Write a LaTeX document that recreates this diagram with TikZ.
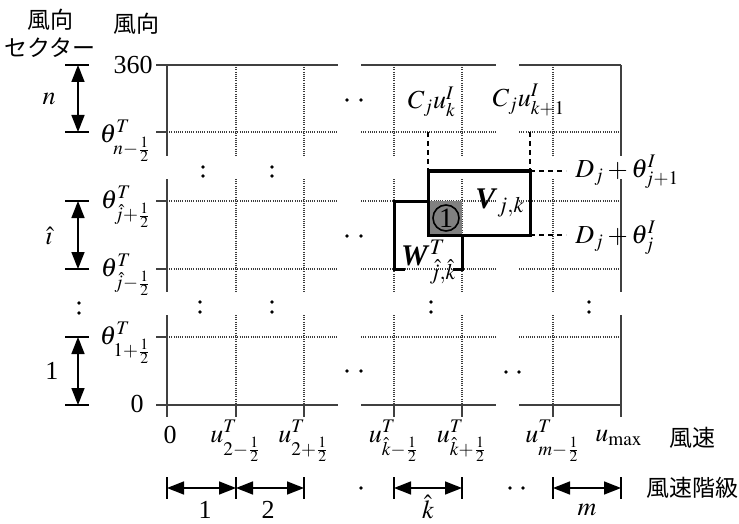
\documentclass[tikz,border=0pt]{standalone}
\usepackage{mathptmx}
\usepackage{fontspec}
\setmainfont{Liberation Serif}
\newfontfamily\jpfont{Noto Sans CJK JP}
\usetikzlibrary{arrows.meta}
\definecolor{axisgray}{RGB}{64,64,64}
\definecolor{dotgray}{RGB}{60,60,60}
\definecolor{cellgray}{RGB}{128,128,128}

\begin{document}
\begin{tikzpicture}[
  x=0.5pt, y=-0.5pt,
  lbl/.style={font=\fontsize{13}{15}\selectfont, inner sep=1pt},
  big/.style={font=\fontsize{15}{17}\selectfont, inner sep=1pt},
  jp/.style={font=\jpfont\fontsize{11.5}{14}\selectfont, align=center, inner sep=0pt},
  axis/.style={draw=axisgray, line width=1pt},
  gridln/.style={draw=dotgray, line width=0.7pt, dash pattern=on 0.5pt off 0.6pt},
  bold/.style={draw=black, line width=1.5pt},
  guide/.style={draw=black, line width=1pt, dash pattern=on 2.5pt off 2pt},
  bar/.style={draw=black, line width=0.8pt},
  dim/.style={{Triangle[length=8.5pt,width=6.5pt]}-{Triangle[length=8.5pt,width=6.5pt]}, line width=0.8pt}
]
\useasboundingbox (0,0) rectangle (739,524);

% grid with the two breaks
\foreach \a/\b in {167/338,361/496,519/621} {
  \draw[axis] (\a,65) -- (\b,65);
  \draw[axis] (\a,405) -- (\b,405);
  \foreach \y in {132,201,269,337} \draw[gridln] (\a,\y) -- (\b,\y);
}
\foreach \a/\b in {65/156,179/292,315/405} {
  \draw[axis] (167,\a) -- (167,\b);
  \draw[axis] (621,\a) -- (621,\b);
  \foreach \x in {236,304,394,462,553} \draw[gridln] (\x,\a) -- (\x,\b);
}
\foreach \y in {65,132,201,269,337,405} \draw[axis] (156,\y) -- (167,\y);
\foreach \x in {167,236,304,394,462,553,621} \draw[axis] (\x,405) -- (\x,417);

% omission dots
\foreach \x/\y in {347/100,361/100,347/236,361/236,347/371,361/371,506/372,519/372,
  510/488,523/488,361/488,203/167,203/176,272/167,272/176,200/302,200/312,
  272/302,272/312,431/302,431/312,589/302,589/312,79/303,79/313}
  \fill (\x,\y) circle (0.9pt);

% cells W and V
\fill[cellgray] (428,201) rectangle (462,235);
\draw[bold] (428,201) -- (394,201) -- (394,269) -- (405,269);
\draw[bold] (453,269) -- (462,269) -- (462,235);
\draw[bold] (428,171) rectangle (530,235);
\draw[guide] (428,132) -- (428,171);
\draw[guide] (530,132) -- (530,171);
\draw[guide] (530,171) -- (566,171);
\draw[guide] (530,235) -- (566,235);
\node[circle, draw, line width=0.8pt, inner sep=0pt, minimum size=13pt, font=\fontsize{14}{16}\selectfont] (one) at (446,218) {1};

\node[lbl] (cuk) at (432,102) {$C_j u^I_k$};
\node[lbl] (cuk1) at (529,100) {$C_j u^I_{k+1}$};
\node[lbl, anchor=west] (dth1) at (573,172) {$D_j+\theta^I_{j+1}$};
\node[lbl, anchor=west] (dth) at (573,238) {$D_j+\theta^I_j$};
\node[big] (vjk) at (500,203) {$\textbf{\textit{V}}_{j,k}$};
\node[big] (wjk) at (429,262) {$\textbf{\textit{W}}^T_{\hat{j},\hat{k}}$};

% wind direction axis
\node[jp] (wdsec) at (50,33) {風向\\セクター};
\node[jp] (wd) at (136,24) {風向};
\node[lbl, anchor=east] (t360) at (155,65) {360};
\node[lbl, anchor=east] (tn) at (154,141) {$\theta^T_{n-\frac{1}{2}}$};
\node[lbl, anchor=east] (tj1) at (154,207) {$\theta^T_{\hat{j}+\frac{1}{2}}$};
\node[lbl, anchor=east] (tj0) at (154,275) {$\theta^T_{\hat{j}-\frac{1}{2}}$};
\node[lbl, anchor=east] (t1) at (154,343) {$\theta^T_{1+\frac{1}{2}}$};
\node[lbl, anchor=east] (t0) at (146,404) {0};

\coordinate (na) at (78,65);
\coordinate (nb) at (78,132);
\coordinate (ia) at (78,201);
\coordinate (ib) at (78,269);
\coordinate (oa) at (78,337);
\coordinate (ob) at (78,405);
\foreach \y in {65,132,201,269,337,405} \draw[bar] (65,\y) -- (89,\y);
\draw[dim] (na) -- (nb);
\draw[dim] (ia) -- (ib);
\draw[dim] (oa) -- (ob);
\node[lbl] (secn) at (49,99) {$n$};
\node[lbl] (seci) at (49,236) {$\hat{\imath}$};
\node[lbl] (sec1) at (52,371) {1};

% wind speed axis
\node[lbl] (u0) at (170,435) {0};
\node[lbl, anchor=north] (u2a) at (236,418) {$u^T_{2-\frac{1}{2}}$};
\node[lbl, anchor=north] (u2b) at (304,418) {$u^T_{2+\frac{1}{2}}$};
\node[lbl, anchor=north] (uka) at (394,418) {$u^T_{\hat{k}-\frac{1}{2}}$};
\node[lbl, anchor=north] (ukb) at (462,418) {$u^T_{\hat{k}+\frac{1}{2}}$};
\node[lbl, anchor=north] (uma) at (553,418) {$u^T_{m-\frac{1}{2}}$};
\node[lbl] (umax) at (619,438) {$u_{\max}$};
\node[jp] (ws) at (692,438) {風速};

\coordinate (b0) at (167,488);
\coordinate (b1) at (236,488);
\coordinate (b2) at (304,488);
\coordinate (bk0) at (394,488);
\coordinate (bk1) at (462,488);
\coordinate (bm0) at (553,488);
\coordinate (bm1) at (621,488);
\foreach \x in {167,236,304,394,462,553,621} \draw[bar] (\x,477) -- (\x,499);
\draw[dim] (b0) -- (b1);
\draw[dim] (b1) -- (b2);
\draw[dim] (bk0) -- (bk1);
\draw[dim] (bm0) -- (bm1);
\node[lbl] (cls1) at (205,510) {1};
\node[lbl] (cls2) at (268,510) {2};
\node[lbl] (clsk) at (428,507) {$\hat{k}$};
\node[lbl] (clsm) at (587,510) {$m$};
\node[jp] (wscls) at (692,488) {風速階級};
\end{tikzpicture}
\end{document}
